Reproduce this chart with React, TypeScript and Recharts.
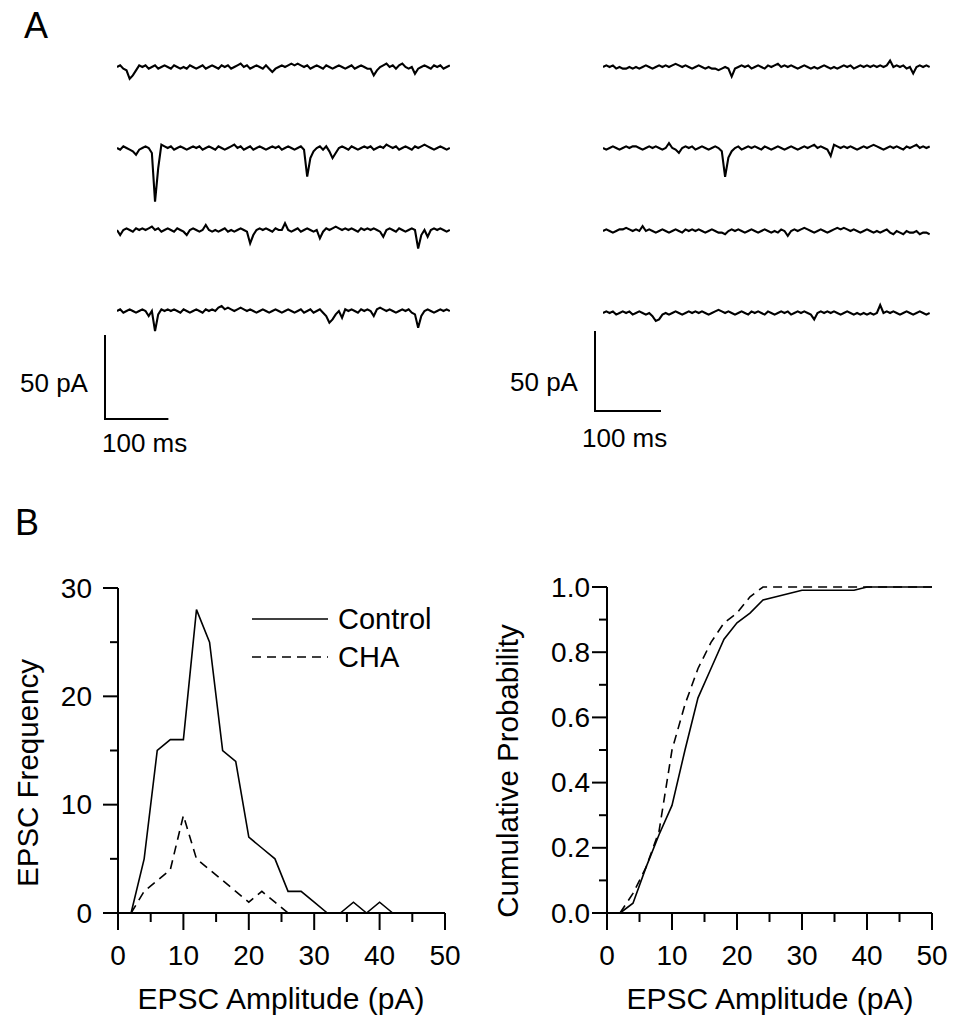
import React from 'react';
import { LineChart, Line, XAxis, YAxis, Legend, Label } from 'recharts';

const FONT = '"Liberation Sans", Arial, Helvetica, sans-serif';

// ---------- Panel A: raw current traces (pA), one sample every 5 ms ----------
const sampleMs = 5;

const controlTrace1 = [
  0, 1, -1, -2, -7, -5, -2, 1, 0, 1,
  -1, 0, 1, -1, 0, 1, 0, -1, 1, 0,
  -1, 0, -1, 1, 0, -1, 0, 1, -1, 0,
  1, 0, -1, 1, 0, 1, -1, 0, 1, 2,
  0, 1, -1, 0, 1, 0, -1, 1, -1, -3,
  -1, 0, 1, 0, 1, 2, 1, 2, 1, 0,
  1, -1, 0, 1, 0, -1, 1, 0, -1, 0,
  1, 0, -1, 0, 1, -1, 0, 1, 0, -1,
  -1, -5, -2, 0, 1, 2, 0, 1, -1, 1,
  2, 0, -1, 0, -4, -1, 0, 1, 0, -1,
  1, 0, 1, -1, 0, 1,
];
const controlTrace2 = [
  0, -1, 1, 0, -1, -2, -4, -1, 0, 1,
  0, -3, -32, -12, 2, 1, 0, 1, -1, 0,
  1, 0, -1, 0, 1, 0, 1, -1, 0, 1,
  0, -1, 1, 0, -1, 0, 1, 2, 0, 1,
  -1, 0, 1, -1, 0, 1, 0, -1, 0, 1,
  0, 1, -1, 0, 1, 0, -1, 0, 1, -1,
  -17, -6, -2, 0, 1, -1, 1, -2, -6, -3,
  0, 1, 0, -1, 1, 0, -1, 0, 1, 0,
  1, -1, 0, 1, 0, 2, 1, 0, 1, -1,
  0, 1, 0, -1, 1, 0, 1, 2, 1, 0,
  -1, 0, 1, 0, -1, 0,
];
const controlTrace3 = [
  0, -3, 0, 1, 0, -1, 1, 0, 1, 0,
  1, 2, 0, 1, -1, 0, 1, 0, -1, 1,
  0, -1, -3, 0, 1, 0, -1, 0, 3, 0,
  -1, 0, -1, 0, 1, -1, 0, -1, 0, 1,
  0, -1, -8, -3, 0, 1, 0, 1, 0, -1,
  1, 0, 0, 4, 0, -1, 0, 1, -1, 0,
  1, 0, -1, 0, -5, -1, 1, 0, 1, 2,
  1, 0, 1, 0, 1, 0, -1, 1, 0, 1,
  0, 1, 0, -1, -4, 0, 1, 0, -1, 1,
  0, -1, 0, 1, 0, -11, -3, 0, -4, 0,
  1, 0, 1, 0, -1, 0,
];
const controlTrace4 = [
  0, 1, -1, 0, 1, 0, -1, 0, 1, 0,
  -3, 0, -12, -2, 1, 0, 1, 0, 1, 0,
  -1, 1, 0, -1, 0, 1, 0, -1, 1, 0,
  1, 0, 2, 3, 1, 2, 1, 0, 1, 2,
  1, 0, 1, 0, -1, 0, 1, 0, -1, 0,
  1, 0, -1, 0, 1, 0, -1, 0, 1, -1,
  0, 1, -1, 0, 1, -1, -3, -7, -5, -2,
  0, -4, 1, 0, 1, 0, -1, 1, 0, 1,
  0, -3, 1, 2, 1, 0, 1, 0, -1, 0,
  1, 0, 1, -1, -2, -10, -3, 0, 1, 0,
  -1, 0, 1, 0, 1, 0,
];

const chaTrace1 = [
  0, 1, 0, 1, -1, 0, -1, -1, 0, -1,
  0, -1, 0, 1, 0, -1, 0, 1, 0, 1,
  0, 1, 2, 1, 0, 1, 0, -1, 0, 1,
  0, -1, 0, -1, -1, -2, -1, 0, -1, -6,
  -1, 0, 1, 0, 1, -1, 0, 1, 0, -1,
  1, 0, 1, 2, 0, 1, 0, 1, 0, -1,
  0, 1, 0, -1, 0, -1, 0, 1, 0, -1,
  0, -1, 0, 1, 0, 1, -1, 0, 1, 0,
  1, 0, 1, 0, 1, 0, 1, 4, 0, 1,
  0, 1, -1, 0, -4, 0, 1, 0, 1, 0,
];
const chaTrace2 = [
  0, -1, 0, 1, 0, -1, 0, 1, 0, 1,
  1, 0, -1, 0, 1, 0, 1, 0, -1, 0,
  3, 0, -1, -3, 0, 1, 0, 1, -1, 0,
  1, 0, -1, 0, 1, 0, -2, -18, -6, -2,
  0, 1, -1, 0, 1, 0, 1, 0, -1, 1,
  0, -1, 0, 1, 0, -1, 0, 1, 0, -1,
  0, 1, 0, 1, 2, 0, 1, 0, -1, -5,
  2, 1, 0, 1, 0, 1, 0, -1, 0, 1,
  0, 1, 2, 1, 0, -1, 0, 1, 0, 1,
  0, -1, 1, 0, 1, 2, 0, 1, 0, 1,
];
const chaTrace3 = [
  0, 1, 0, -1, 0, 1, 1, 2, 1, 0,
  1, 0, 3, 0, 1, 0, -1, 0, 1, 0,
  -1, 0, 1, 0, -1, 1, 0, 1, 0, 1,
  0, -1, 0, 1, 0, -1, -1, -2, 0, 1,
  0, 1, 0, -1, 0, 1, 0, -1, 0, 1,
  0, -1, 0, -1, 1, 0, -3, 0, 1, 0,
  1, 2, 1, 0, -1, 0, 1, 0, -1, 0,
  1, 2, 1, 2, 1, 0, 1, 0, -1, 0,
  1, 0, -1, 0, -1, 0, 1, -1, -2, 0,
  -1, -2, 0, -1, -1, 0, -2, -1, -1, -2,
];
const chaTrace4 = [
  0, 1, 0, 1, -1, 0, 1, 0, 1, -1,
  0, 1, 0, -1, 0, -2, -5, -4, -1, 0,
  -1, 0, 1, 0, -1, 0, 1, 0, 1, 0,
  1, 0, -1, 0, 1, 2, 1, 0, 1, 0,
  -1, 0, 1, 0, -1, 1, 0, 1, 0, -1,
  1, 0, -1, 0, 1, 0, 1, -1, 0, 1,
  0, 1, 0, -1, -4, 0, 1, 0, 1, 0,
  1, 0, -1, 0, 1, 0, -1, 0, -1, 0,
  -1, 0, -1, 0, 5, 0, 1, 0, 1, 0,
  -1, 0, 1, 0, -1, 0, 1, 0, -1, 0,
];

const scaleBarPa = 50;
const scaleBarMs = 100;

// ---------- Panel B: amplitude histogram ----------
const controlBins = [2, 4, 6, 8, 10, 12, 14, 16, 18, 20, 22, 24, 26, 28, 30, 32, 34, 36, 38, 40, 42];
const controlCounts = [0, 5, 15, 16, 16, 28, 25, 15, 14, 7, 6, 5, 2, 2, 1, 0, 0, 1, 0, 1, 0];
const chaBins = [2, 4, 6, 8, 10, 12, 14, 16, 18, 20, 22, 24, 26];
const chaCounts = [0, 2, 3, 4, 9, 5, 4, 3, 2, 1, 2, 1, 0];

// ---------- Panel B: cumulative probability ----------
const controlCumX = [2, 4, 6, 8, 10, 12, 14, 16, 18, 20, 22, 24, 26, 28, 30, 32, 34, 36, 38, 40, 50];
const controlCumY = [0, 0.03, 0.14, 0.24, 0.33, 0.5, 0.66, 0.75, 0.84, 0.89, 0.92, 0.96, 0.97, 0.98, 0.99, 0.99, 0.99, 0.99, 0.99, 1.0, 1.0];
const chaCumX = [2, 4, 6, 8, 10, 12, 14, 16, 18, 20, 22, 24, 50];
const chaCumY = [0, 0.06, 0.14, 0.25, 0.5, 0.64, 0.75, 0.83, 0.89, 0.92, 0.97, 1.0, 1.0];

const ampTicks = [0, 5, 10, 15, 20, 25, 30, 35, 40, 45, 50];
const freqTicks = [0, 5, 10, 15, 20, 25, 30];
const probTicks = [0, 0.1, 0.2, 0.3, 0.4, 0.5, 0.6, 0.7, 0.8, 0.9, 1.0];

const toXY = (xs: number[], ys: number[]) => xs.map((x, i) => ({ x, y: ys[i] }));
const toTrace = (vals: number[]) => vals.map((v, i) => ({ t: i * sampleMs, v }));

// ---------- components ----------
type TraceProps = { values: number[]; left: number; baseline: number; pxPerMs: number; pxPerPa: number };
function Trace({ values, left, baseline, pxPerMs, pxPerPa }: TraceProps) {
  const tMax = (values.length - 1) * sampleMs;
  const width = tMax * pxPerMs;
  const above = 15;
  const below = 65;
  const height = above + below;
  return (
    <div style={{ position: 'absolute', left, top: baseline - above }}>
      <LineChart width={width} height={height} data={toTrace(values)} margin={{ top: 0, right: 0, bottom: 0, left: 0 }}>
        <XAxis dataKey="t" type="number" domain={[0, tMax]} hide />
        <YAxis type="number" domain={[-below / pxPerPa, above / pxPerPa]} hide allowDataOverflow />
        <Line dataKey="v" stroke="#000" strokeWidth={2.1} strokeLinejoin="miter" dot={false} isAnimationActive={false} />
      </LineChart>
    </div>
  );
}

type BarProps = { cornerX: number; cornerY: number; pxPerMs: number; pxPerPa: number };
function ScaleBar({ cornerX, cornerY, pxPerMs, pxPerPa }: BarProps) {
  const pad = 2;
  const w = scaleBarMs * pxPerMs;
  const h = scaleBarPa * pxPerPa;
  const data = [
    { t: 0, v: scaleBarPa },
    { t: 0, v: 0 },
    { t: scaleBarMs, v: 0 },
  ];
  return (
    <div style={{ position: 'absolute', left: cornerX - pad, top: cornerY - h - pad }}>
      <LineChart width={w + 2 * pad} height={h + 2 * pad} data={data} margin={{ top: pad, right: pad, bottom: pad, left: pad }}>
        <XAxis dataKey="t" type="number" domain={[0, scaleBarMs]} hide />
        <YAxis type="number" domain={[0, scaleBarPa]} hide />
        <Line dataKey="v" stroke="#000" strokeWidth={2} dot={false} isAnimationActive={false} />
      </LineChart>
    </div>
  );
}

const makeXTick = (majorEvery: number) => (props: any) => {
  const { x, y, payload } = props;
  const v = payload.value;
  const major = Math.abs(v / majorEvery - Math.round(v / majorEvery)) < 1e-6;
  return (
    <g>
      <line x1={x} y1={y} x2={x} y2={y + (major ? 17 : 9)} stroke="#000" strokeWidth={2} />
      {major && (
        <text x={x} y={y + 52} textAnchor="middle" fontSize={28} fontFamily={FONT} fill="#000">
          {v}
        </text>
      )}
    </g>
  );
};

const makeYTick = (majorEvery: number, gap: number, decimals: number) => (props: any) => {
  const { x, y, payload } = props;
  const v = payload.value;
  const major = Math.abs(v / majorEvery - Math.round(v / majorEvery)) < 1e-6;
  return (
    <g>
      <line x1={x - (major ? 15 : 8)} y1={y} x2={x} y2={y} stroke="#000" strokeWidth={2} />
      {major && (
        <text x={x - gap} y={y} textAnchor="end" dominantBaseline="central" fontSize={28} fontFamily={FONT} fill="#000">
          {v.toFixed(decimals)}
        </text>
      )}
    </g>
  );
};

const yTitle = (text: string, x: number, y: number) => () => (
  <text x={x} y={y} transform={`rotate(-90, ${x}, ${y})`} textAnchor="middle" fontSize={29.5} fontFamily={FONT} fill="#000">
    {text}
  </text>
);
const xTitle = (text: string, x: number, y: number) => () => (
  <text x={x} y={y} textAnchor="middle" fontSize={30} fontFamily={FONT} fill="#000">
    {text}
  </text>
);

const HistLegend = () => (
  <svg width={200} height={80} style={{ display: 'block' }}>
    <line x1={2} y1={19} x2={78} y2={19} stroke="#000" strokeWidth={1.6} />
    <text x={88} y={19} dominantBaseline="central" fontSize={29} fontFamily={FONT} fill="#000">Control</text>
    <line x1={2} y1={57} x2={78} y2={57} stroke="#000" strokeWidth={1.6} strokeDasharray="9 6" />
    <text x={88} y={57} dominantBaseline="central" fontSize={29} fontFamily={FONT} fill="#000">CHA</text>
  </svg>
);

const axisLineStyle = { stroke: '#000', strokeWidth: 2 };

export default function App() {
  const leftCol = { x0: 117, pxPerMs: 0.634, pxPerPa: 1.68, baselines: [67, 148, 230, 311] };
  const rightCol = { x0: 603, pxPerMs: 0.66, pxPerPa: 1.6, baselines: [67, 148, 231, 313] };
  const controlTraces = [controlTrace1, controlTrace2, controlTrace3, controlTrace4];
  const chaTraces = [chaTrace1, chaTrace2, chaTrace3, chaTrace4];

  return (
    <div style={{ position: 'absolute', left: 0, top: 0, width: 957, height: 1033, background: '#fff', fontFamily: FONT }}>
      {/* Panel A */}
      {controlTraces.map((tr, i) => (
        <Trace key={'c' + i} values={tr} left={leftCol.x0} baseline={leftCol.baselines[i]} pxPerMs={leftCol.pxPerMs} pxPerPa={leftCol.pxPerPa} />
      ))}
      {chaTraces.map((tr, i) => (
        <Trace key={'h' + i} values={tr} left={rightCol.x0} baseline={rightCol.baselines[i]} pxPerMs={rightCol.pxPerMs} pxPerPa={rightCol.pxPerPa} />
      ))}
      <ScaleBar cornerX={105} cornerY={419} pxPerMs={leftCol.pxPerMs} pxPerPa={leftCol.pxPerPa} />
      <ScaleBar cornerX={595} cornerY={411} pxPerMs={rightCol.pxPerMs} pxPerPa={rightCol.pxPerPa} />

      <svg width={957} height={1033} style={{ position: 'absolute', left: 0, top: 0, pointerEvents: 'none' }}>
        <text x={24} y={38} fontSize={36} fontFamily={FONT} fill="#000">A</text>
        <text x={15} y={535} fontSize={36} fontFamily={FONT} fill="#000">B</text>
        <text x={20} y={383} dominantBaseline="central" fontSize={26} fontFamily={FONT} fill="#000">50 pA</text>
        <text x={102} y={443} dominantBaseline="central" fontSize={26} fontFamily={FONT} fill="#000">100 ms</text>
        <text x={510} y={382} dominantBaseline="central" fontSize={26} fontFamily={FONT} fill="#000">50 pA</text>
        <text x={582} y={438} dominantBaseline="central" fontSize={26} fontFamily={FONT} fill="#000">100 ms</text>
      </svg>

      {/* Panel B left: histogram */}
      <div style={{ position: 'absolute', left: 0, top: 560 }}>
        <LineChart width={470} height={473} margin={{ top: 28, right: 25, bottom: 90, left: 78 }}>
          <XAxis dataKey="x" type="number" domain={[0, 50]} ticks={ampTicks} interval={0} tick={makeXTick(10)} tickLine={false} tickSize={0} tickMargin={0} axisLine={axisLineStyle} height={30}>
            <Label content={xTitle('EPSC Amplitude (pA)', 281, 449)} />
          </XAxis>
          <YAxis type="number" domain={[0, 30]} ticks={freqTicks} interval={0} tick={makeYTick(10, 26, 0)} tickLine={false} tickSize={0} tickMargin={0} axisLine={axisLineStyle} width={40}>
            <Label content={yTitle('EPSC Frequency', 38, 213)} />
          </YAxis>
          <Legend content={HistLegend} layout="horizontal" verticalAlign="middle" align="center" wrapperStyle={{ left: 250, top: 40, width: 200, height: 80 }} />
          <Line data={toXY(controlBins, controlCounts)} dataKey="y" name="Control" stroke="#000" strokeWidth={1.6} dot={false} isAnimationActive={false} />
          <Line data={toXY(chaBins, chaCounts)} dataKey="y" name="CHA" stroke="#000" strokeWidth={1.6} strokeDasharray="9 6" dot={false} isAnimationActive={false} />
        </LineChart>
      </div>

      {/* Panel B right: cumulative probability */}
      <div style={{ position: 'absolute', left: 480, top: 560 }}>
        <LineChart width={477} height={473} margin={{ top: 27, right: 25, bottom: 90, left: 87 }}>
          <XAxis dataKey="x" type="number" domain={[0, 50]} ticks={ampTicks} interval={0} tick={makeXTick(10)} tickLine={false} tickSize={0} tickMargin={0} axisLine={axisLineStyle} height={30}>
            <Label content={xTitle('EPSC Amplitude (pA)', 290, 449)} />
          </XAxis>
          <YAxis type="number" domain={[0, 1]} ticks={probTicks} interval={0} tick={makeYTick(0.2, 17, 1)} tickLine={false} tickSize={0} tickMargin={0} axisLine={axisLineStyle} width={40}>
            <Label content={yTitle('Cumulative Probability', 38, 211)} />
          </YAxis>
          <Line data={toXY(controlCumX, controlCumY)} dataKey="y" name="Control" stroke="#000" strokeWidth={1.6} dot={false} isAnimationActive={false} />
          <Line data={toXY(chaCumX, chaCumY)} dataKey="y" name="CHA" stroke="#000" strokeWidth={1.6} strokeDasharray="9 6" dot={false} isAnimationActive={false} />
        </LineChart>
      </div>
    </div>
  );
}
